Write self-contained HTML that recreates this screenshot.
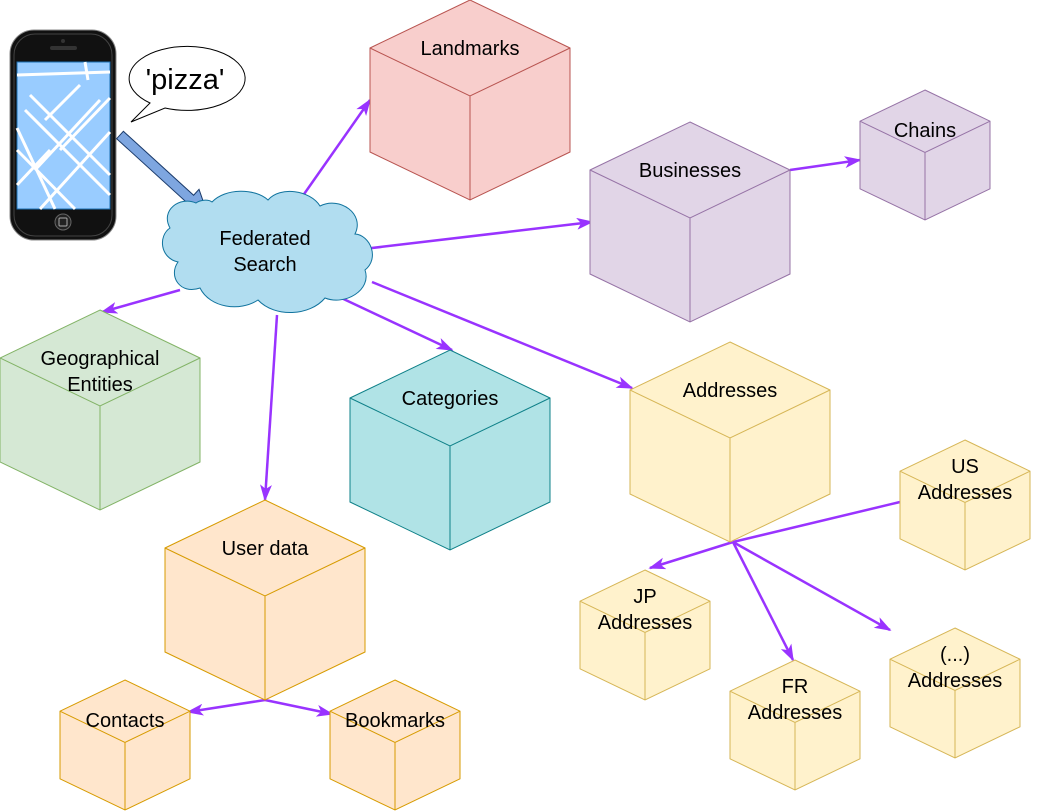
<!DOCTYPE html>
<html><head><meta charset="utf-8"><style>
html,body{margin:0;padding:0;background:#fff;}
svg{display:block;font-family:"Liberation Sans",Arial,sans-serif;}
</style></head><body>
<svg id="d" width="1040" height="811" viewBox="0 0 1040 811">
<defs>
<marker id="ah" viewBox="0 0 20 14" refX="18" refY="7" markerWidth="17" markerHeight="12" orient="auto" markerUnits="userSpaceOnUse">
<path d="M0,0 L20,7 L0,14 L5,7 z" fill="#9933ff"/>
</marker>
</defs>
<g>
<rect x="10" y="30" width="106" height="210" rx="24" fill="#111" stroke="#888" stroke-width="1"/>
<rect x="14" y="34" width="98" height="202" rx="21" fill="none" stroke="#444" stroke-width="1"/>
<circle cx="63" cy="41" r="2" fill="#333"/>
<rect x="50" y="46" width="27" height="4" rx="2" fill="#333"/>
<rect x="17" y="62" width="93" height="147" fill="#99ccff" stroke="#1a6fb3"/>
<g stroke="#fff" stroke-width="3" fill="none">
<path d="M17,75 L110,72"/><path d="M17,150 L75,209"/><path d="M40,209 L110,132"/><path d="M17,128 L55,209"/>
<path d="M30,95 L110,175"/><path d="M25,110 L110,195"/><path d="M60,150 L110,98"/><path d="M35,170 L100,100"/>
<path d="M17,185 L50,150"/><path d="M85,62 L88,80"/><path d="M45,120 L80,85"/>
</g>
<circle cx="63" cy="222" r="8" fill="#222" stroke="#666"/>
<rect x="59" y="218" width="8" height="8" rx="1" fill="none" stroke="#aaa"/>
</g>
<g>
<path d="M150,103 A58,32 0 1 1 165,108 L131,122 Z" fill="#fff" stroke="#000" stroke-width="1"/>
<text x="185" y="89" font-size="29" text-anchor="middle" fill="#000">'pizza'</text>
</g>
<polygon transform="translate(120,135) rotate(42.3)" points="0,-5 95,-5 95,-13 119,0 95,13 95,5 0,5" fill="#7ea6e0" stroke="#1a3a6a" stroke-width="1"/>
<g id="arrows" stroke="#9933ff" stroke-width="2.5" fill="none"></g>
<g id="cubes"></g>
<g>
<path d="M196,203 C180,196 160,210 170,228 C158,236 160,258 178,262 C168,276 180,295 200,288 C210,308 240,312 258,300 C275,318 310,316 325,298 C345,306 372,290 365,270 C380,258 370,235 355,234 C365,214 340,196 320,206 C310,190 280,186 268,200 C255,188 225,188 212,202 C208,199 200,200 196,203 z" fill="#b1ddf0" stroke="#10739e" stroke-width="1"/>
<text x="265" y="245" font-size="20" text-anchor="middle">Federated</text>
<text x="265" y="271" font-size="20" text-anchor="middle">Search</text>
</g>
</svg>
<script>
var cubeNames=["landmarks","chains","businesses","geographical-entities","categories","addresses","us-addresses","user-data","jp-addresses","other-addresses","fr-addresses","contacts","bookmarks"];
var cubeLabels=[["Landmarks"],["Chains"],["Businesses"],["Geographical","Entities"],["Categories"],["Addresses"],["US","Addresses"],["User data"],["JP","Addresses"],["(...)","Addresses"],["FR","Addresses"],["Contacts"],["Bookmarks"]];
var cubeX=[370,860,590,0,350,630,900,165,580,890,730,60,330];
var cubeY=[0,90,122,310,350,342,440,500,570,628,660,680,680];
var cubeSize=[200,130,200,200,200,200,130,200,130,130,130,130,130];
var cubeStyle=[0,1,1,2,3,4,4,5,4,4,4,5,5];
var fills=["#f8cecc","#e1d5e7","#d5e8d4","#b0e3e6","#fff2cc","#ffe6cc"];
var strokes=["#b85450","#9673a6","#82b366","#0e8088","#d6b656","#d79b00"];
var arrowFrom=[[295,207],[355,250],[790,170],[180,290],[277,315],[335,295],[372,282],[733,542],[733,542],[733,542],[265,700],[265,700]];
var arrowTo=[[370,100],[592,222],[860,160],[102,312],[265,500],[452,350],[632,388],[650,568],[793,660],[890,630],[188,712],[332,714]];
var NS="http://www.w3.org/2000/svg";
var cg=document.getElementById("cubes");
for(var i=0;i<cubeNames.length;i++){
  var x=cubeX[i],y=cubeY[i],s=cubeSize[i],o=0.24*s,c=0.48*s,m=x+s/2;
  var g=document.createElementNS(NS,"g");
  
  
  var p=document.createElementNS(NS,"path");
  p.setAttribute("d","M"+m+","+y+" L"+(x+s)+","+(y+o)+" L"+(x+s)+","+(y+s-o)+" L"+m+","+(y+s)+" L"+x+","+(y+s-o)+" L"+x+","+(y+o)+" Z");
  p.setAttribute("fill",fills[cubeStyle[i]]);
  p.setAttribute("stroke",strokes[cubeStyle[i]]);
  p.setAttribute("stroke-width","1");
  g.appendChild(p);
  var q=document.createElementNS(NS,"path");
  q.setAttribute("d","M"+x+","+(y+o)+" L"+m+","+(y+c)+" L"+(x+s)+","+(y+o)+" M"+m+","+(y+c)+" L"+m+","+(y+s));
  q.setAttribute("fill","none");
  q.setAttribute("stroke",strokes[cubeStyle[i]]);
  q.setAttribute("stroke-width","1");
  g.appendChild(q);
  var L=cubeLabels[i];
  var base=(s<150)?(L.length>1?y+o-5:y+o+9):y+o;
  for(var j=0;j<L.length;j++){
    var t=document.createElementNS(NS,"text");
    
    
    t.setAttribute("x",m);
    t.setAttribute("y",base+7+j*26);
    t.setAttribute("font-size","20");
    t.setAttribute("text-anchor","middle");
    t.textContent=L[j];
    g.appendChild(t);
  }
  cg.appendChild(g);
}
var ag=document.getElementById("arrows");
for(var k=0;k<arrowFrom.length;k++){
  var l=document.createElementNS(NS,"line");
  
  
  l.setAttribute("x1",arrowFrom[k][0]);l.setAttribute("y1",arrowFrom[k][1]);
  l.setAttribute("x2",arrowTo[k][0]);l.setAttribute("y2",arrowTo[k][1]);
  l.setAttribute("marker-end","url(#ah)");
  ag.appendChild(l);
}
var us=document.createElementNS(NS,"line");


us.setAttribute("x1",900);us.setAttribute("y1",502);us.setAttribute("x2",733);us.setAttribute("y2",542);
ag.appendChild(us);
</script>
</body></html>
